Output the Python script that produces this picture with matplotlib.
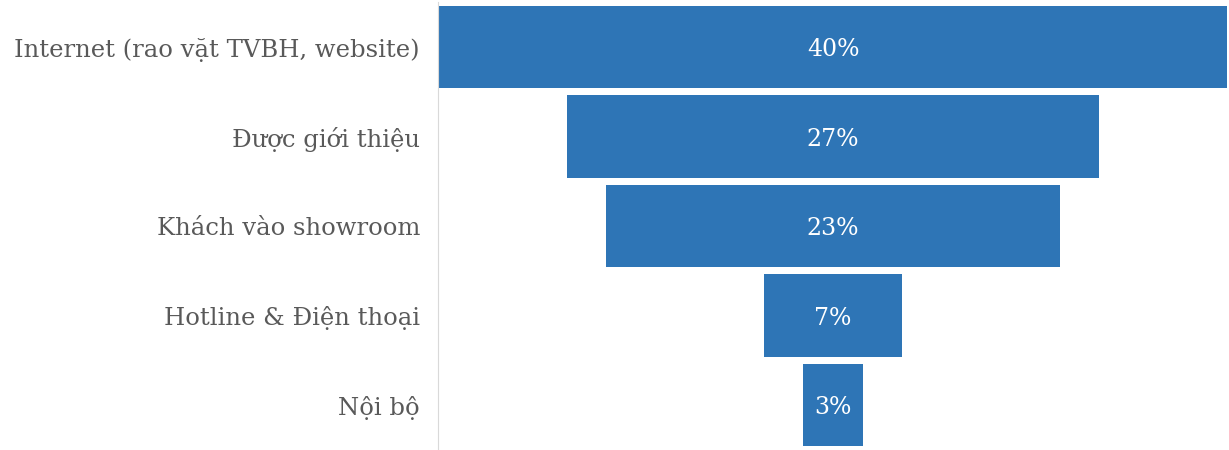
import matplotlib.pyplot as plt

categories = ["Internet (rao vặt TVBH, website)", "Được giới thiệu", "Khách vào showroom",
              "Hotline & Điện thoại", "Nội bộ"]
values = [40, 27, 23, 7, 3]

bar_color = "#2E75B6"
text_color = "#595959"

fig = plt.figure(figsize=(12.29, 4.5), dpi=100)
ax = fig.add_axes([438 / 1229, 0.0, 1 - 438 / 1229, 0.995])

y = list(range(len(categories)))
lefts = [-v / 2 for v in values]
ax.barh(y, values, left=lefts, height=0.92, color=bar_color)

for yi, v in zip(y, values):
    ax.text(0, yi + 0.03, f"{v}%", ha="center", va="center", color="white",
            fontsize=17, family="DejaVu Serif")

ax.set_xlim(-20.05, 20.1)
ax.set_ylim(len(categories) - 0.5, -0.5)
ax.set_yticks(y)
ax.set_yticklabels(categories, fontsize=17.5, color=text_color, family="DejaVu Serif")
ax.tick_params(axis="y", length=0, pad=13)
ax.set_xticks([])
for s in ["top", "right", "bottom"]:
    ax.spines[s].set_visible(False)
ax.spines["left"].set_color("#D9D9D9")

fig.savefig("out.png", dpi=100)
